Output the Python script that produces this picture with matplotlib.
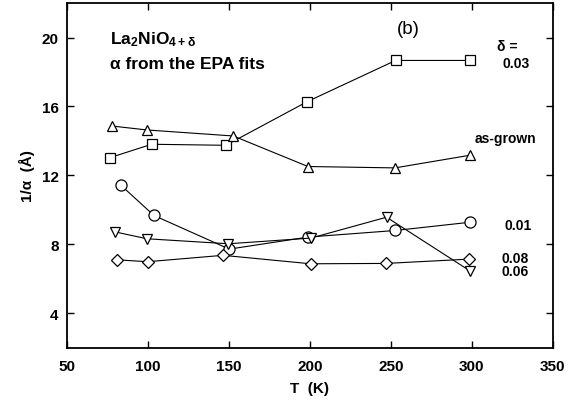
import matplotlib
matplotlib.use("Agg")
import matplotlib.pyplot as plt

plt.rcParams['font.family'] = ['Liberation Sans', 'DejaVu Sans']
plt.rcParams['mathtext.fontset'] = 'custom'
plt.rcParams['mathtext.bf'] = 'Liberation Sans:bold'
plt.rcParams['mathtext.rm'] = 'Liberation Sans:bold'
plt.rcParams['mathtext.default'] = 'bf'

# 1/alpha (Angstrom) vs temperature for each oxygen excess
T_003 = [76.7, 102.3, 148.1, 198.3, 252.9, 298.8]
inv_003 = [13.04, 13.81, 13.75, 16.28, 18.67, 18.67]

T_grown = [77.6, 99.2, 152.7, 198.8, 252.5, 298.6]
inv_grown = [14.87, 14.64, 14.29, 12.52, 12.44, 13.17]

T_001 = [83.1, 103.7, 150.2, 199.0, 252.7, 299.0]
inv_001 = [11.45, 9.68, 7.73, 8.43, 8.81, 9.29]

T_006 = [79.6, 99.4, 149.6, 200.6, 247.3, 298.6]
inv_006 = [8.73, 8.33, 8.04, 8.37, 9.58, 6.48]

T_008 = [80.7, 99.8, 146.3, 200.4, 246.9, 298.3]
inv_008 = [7.11, 7.00, 7.37, 6.88, 6.90, 7.15]

xticks = [50, 100, 150, 200, 250, 300, 350]
yticks = [4, 8, 12, 16, 20]

fig = plt.figure(figsize=(5.75, 4.02), dpi=100)
ax = fig.add_axes([0.1165, 0.132, 0.845, 0.858])

kw = dict(color='black', lw=0.8, mfc='white', mec='black', mew=0.9)
ax.plot(T_003, inv_003, marker='s', ms=7, **kw)
ax.plot(T_grown, inv_grown, marker='^', ms=7.5, **kw)
ax.plot(T_001, inv_001, marker='o', ms=8, **kw)
ax.plot(T_006, inv_006, marker='v', ms=7.5, **kw)
ax.plot(T_008, inv_008, marker='D', ms=6.5, **kw)

ax.set_xlim(50, 350)
ax.set_ylim(2, 22)
ax.set_xticks(xticks)
ax.set_yticks(yticks)
ax.tick_params(direction='in', length=5, width=1, top=True, right=True,
               labelsize=11)
ax.tick_params(axis='x', pad=8)
ax.tick_params(axis='y', pad=6)
for lab in ax.get_xticklabels() + ax.get_yticklabels():
    lab.set_fontweight('bold')
for s in ax.spines.values():
    s.set_linewidth(1.3)

ax.set_xlabel('T  (K)', fontsize=11, fontweight='bold', labelpad=6)
ax.set_ylabel('1/α  (Å)', fontsize=11, fontweight='bold', labelpad=5)

ax.text(0.088, 0.898, r'La$_2$NiO$_{4+δ}$', transform=ax.transAxes,
        fontsize=12.5, fontweight='bold', va='center')
ax.text(0.088, 0.826, 'α from the EPA fits', transform=ax.transAxes,
        fontsize=12.5, fontweight='bold', va='center')
ax.text(0.679, 0.925, '(b)', transform=ax.transAxes, fontsize=13.5, va='center')

# series labels to the right of the last points
ax.text(315.5, 19.48, 'δ =', fontsize=10, fontweight='bold', va='center')
ax.text(319, 18.5, '0.03', fontsize=10, fontweight='bold', va='center')
ax.text(302, 14.2, 'as-grown', fontsize=10, fontweight='bold', va='center')
ax.text(320, 9.14, '0.01', fontsize=10, fontweight='bold', va='center')
ax.text(318.5, 7.21, '0.08', fontsize=10, fontweight='bold', va='center')
ax.text(318.5, 6.48, '0.06', fontsize=10, fontweight='bold', va='center')

fig.savefig('out.png', dpi=100)
